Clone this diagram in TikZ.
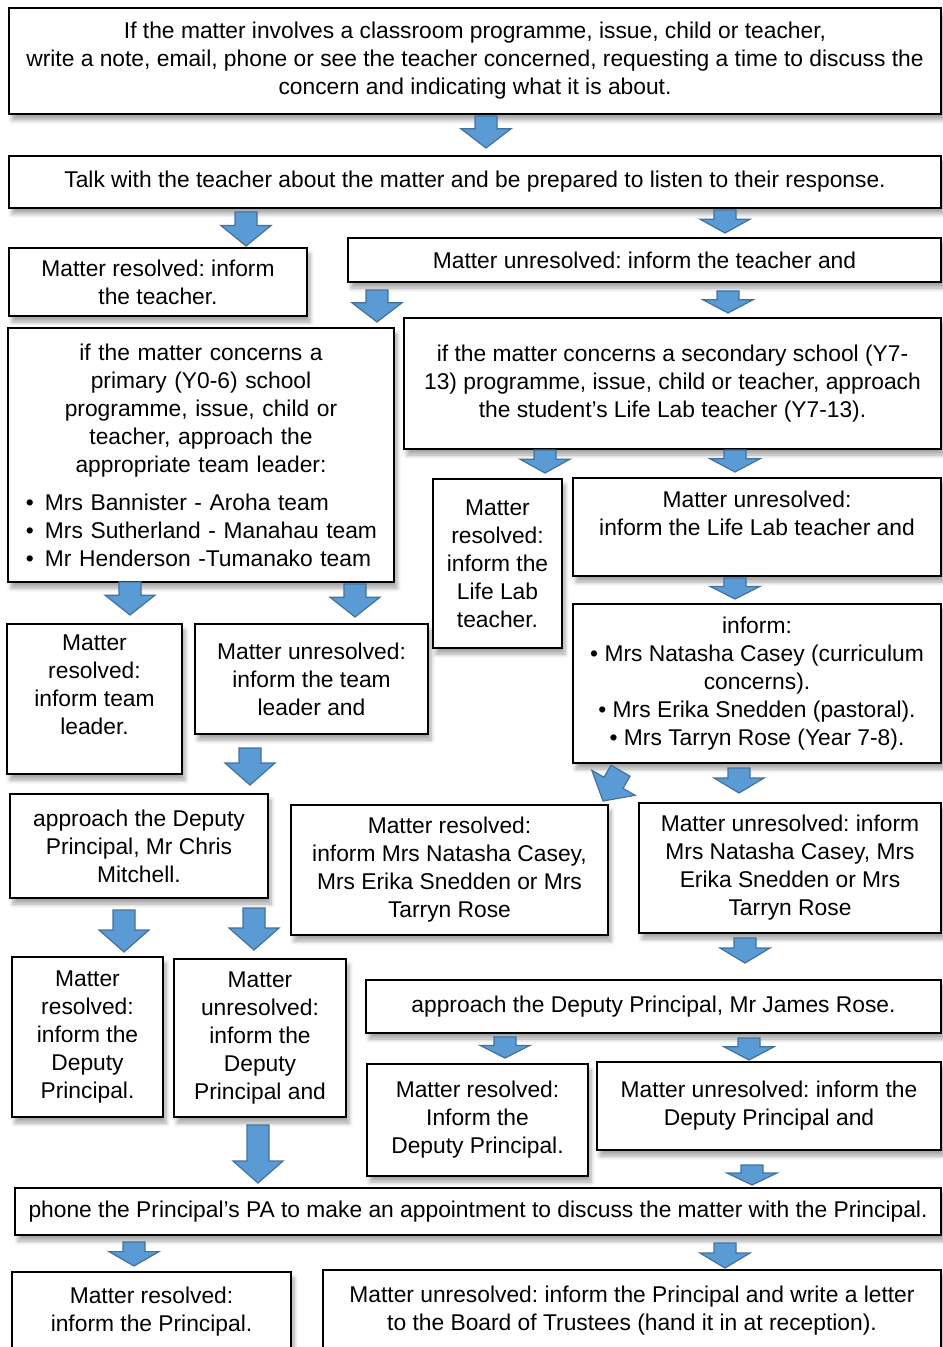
\documentclass[tikz,border=0pt]{standalone}
\usepackage{fontspec}
\setmainfont{Liberation Sans}
\usepackage{xcolor}
\usetikzlibrary{shapes,arrows,shadows.blur}
\frenchspacing

\definecolor{arrowfill}{HTML}{5B9BD5}
\definecolor{arrowline}{HTML}{41719C}
\newcommand{\px}{0.5pt}

\tikzset{
  box/.style={draw, line width=1pt, fill=white, align=center, inner sep=2pt,
    anchor=north west, font=\fontsize{11.4}{14}\selectfont,
    blur shadow={shadow xshift=1.5pt, shadow yshift=-3pt, shadow blur steps=6, shadow opacity=35}},
  boxsize/.style 2 args={minimum width=#1*\px, minimum height=#2*\px},
  blockarrow/.style={fill=arrowfill, draw=arrowline, line width=0.6pt}
}

% block arrow: [rotation] x, top, tip
\newcommand{\blockarr}[4][0]{%
  \pgfmathsetmacro{\hl}{min(22,0.6*(#4-#3))}
  \filldraw[blockarrow, rotate around={#1:(#2,#4)}] (#2-11,#3) -- (#2+11,#3) -- (#2+11,#4-\hl)
    -- (#2+25,#4-\hl) -- (#2,#4) -- (#2-25,#4-\hl) -- (#2-11,#4-\hl) -- cycle;}

\begin{document}
\begin{tikzpicture}[x=\px, y=-\px]
\useasboundingbox (0,0) rectangle (942,1347);

% teacher
\node[box, boxsize={932}{106}] (start) at (8,7) {If the matter involves a classroom programme, issue, child or teacher,\\
  write a note, email, phone or see the teacher concerned, requesting a time to discuss the\\
  concern and indicating what it is about.};
\node[box, boxsize={932}{52}] (talk) at (8,155) {Talk with the teacher about the matter and be prepared to listen to their response.};
\node[box, boxsize={298}{68}] (teachres) at (8,247) {Matter resolved: inform\\ the teacher.};
\node[box, boxsize={593}{44}] (teachunres) at (347,237) {Matter unresolved: inform the teacher and};

% primary
\node[box, boxsize={386}{254}, text width=370*\px, align=left] (primary) at (7,327) {\centering
  if the matter concerns a\\ primary (Y0-6) school\\ programme, issue, child or\\ teacher, approach the\\ appropriate team leader:\par
  \vspace{5pt}\raggedright
  \hspace*{5pt}\makebox[9.5pt][l]{\textbullet}Mrs Bannister - Aroha team\\
  \hspace*{5pt}\makebox[9.5pt][l]{\textbullet}Mrs Sutherland - Manahau team\\
  \hspace*{5pt}\makebox[9.5pt][l]{\textbullet}Mr Henderson -Tumanako team};
\node[box, boxsize={175}{150}] (leadres) at (6,623) {Matter\\ resolved:\\ inform team\\ leader.\\ ~};
\node[box, boxsize={233}{110}] (leadunres) at (194,623) {Matter unresolved:\\ inform the team\\ leader and};
\node[box, boxsize={258}{104}] (chris) at (9,793) {approach the Deputy\\ Principal, Mr Chris\\ Mitchell.};
\node[box, boxsize={151}{160}] (dpres) at (11,956) {Matter\\ resolved:\\ inform the\\ Deputy\\ Principal.};
\node[box, boxsize={172}{158}] (dpunres) at (173,958) {Matter\\ unresolved:\\ inform the\\ Deputy\\ Principal and};

% secondary
\node[box, boxsize={537}{131}] (secondary) at (403,317) {if the matter concerns a secondary school (Y7-\\
  13) programme, issue, child or teacher, approach\\ the student’s Life Lab teacher (Y7-13).};
\node[box, boxsize={129}{169}] (labres) at (432,478) {Matter\\ resolved:\\ inform the\\ Life Lab\\ teacher.};
\node[box, boxsize={368}{98}] (labunres) at (572,477) {Matter unresolved:\\ inform the Life Lab teacher and\\ ~};
\node[box, boxsize={368}{159}] (inform) at (572,603) {inform:\\ \textbullet\ Mrs Natasha Casey (curriculum\\ concerns).\\
  \textbullet\ Mrs Erika Snedden (pastoral).\\ \textbullet\ Mrs Tarryn Rose (Year 7-8).};
\node[box, boxsize={317}{130}] (seniorres) at (290,804) {Matter resolved:\\ inform Mrs Natasha Casey,\\ Mrs Erika Snedden or Mrs\\ Tarryn Rose};
\node[box, boxsize={302}{130}] (seniorunres) at (638,802) {Matter unresolved: inform\\ Mrs Natasha Casey, Mrs\\ Erika Snedden or Mrs\\ Tarryn Rose};
\node[box, boxsize={575}{53}] (james) at (365,979) {approach the Deputy Principal, Mr James Rose.};
\node[box, boxsize={221}{112}] (jamesres) at (366,1063) {Matter resolved:\\ Inform the\\ Deputy Principal.};
\node[box, boxsize={344}{88}] (jamesunres) at (596,1061) {Matter unresolved: inform the\\ Deputy Principal and};

% principal
\node[box, boxsize={926}{47}] (phone) at (14,1187) {phone the Principal’s PA to make an appointment to discuss the matter with the Principal.};
\node[box, boxsize={279}{79}] (princres) at (11,1271) {Matter resolved:\\ inform the Principal.};
\node[box, boxsize={618}{81}] (princunres) at (322,1269) {Matter unresolved: inform the Principal and write a letter\\ to the Board of Trustees (hand it in at reception).};

% arrows
\blockarr{486}{116}{148}
\blockarr{246}{212}{246}
\blockarr{725}{210}{233}
\blockarr{377}{290}{322}
\blockarr{728}{291}{313}
\blockarr{545}{450}{473}
\blockarr{735}{450}{472}
\blockarr{735}{578}{599}
\blockarr{130}{582}{615}
\blockarr{355}{584}{617}
\blockarr{250}{748}{785}
\blockarr[-30]{603}{766}{801}
\blockarr{739}{768}{793}
\blockarr{124}{910}{952}
\blockarr{254}{908}{950}
\blockarr{745}{938}{963}
\blockarr{505}{1037}{1058}
\blockarr{749}{1038}{1060}
\blockarr{258}{1125}{1183}
\blockarr{752}{1165}{1185}
\blockarr{134}{1242}{1266}
\blockarr{725}{1243}{1268}

\end{tikzpicture}
\end{document}
